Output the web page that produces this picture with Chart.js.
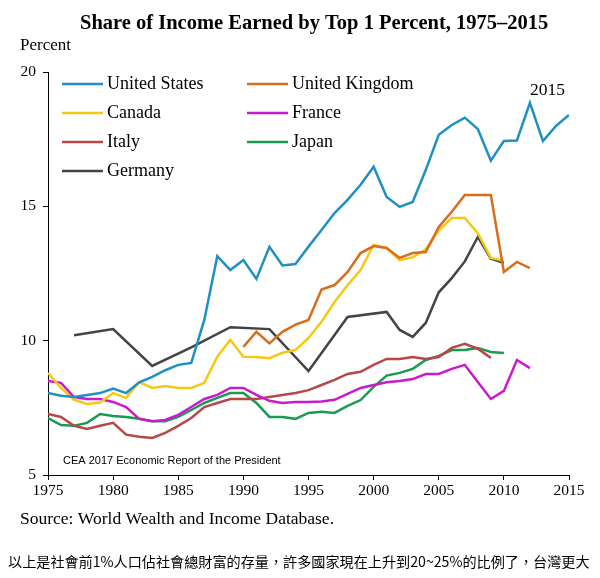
<!DOCTYPE html>
<html>
<head>
<meta charset="utf-8">
<script src="https://cdn.jsdelivr.net/npm/chart.js@4"></script>
<style>
  html, body { margin: 0; padding: 0; background: #fff; }
  #wrap { width: 600px; height: 578px; }
</style>
</head>
<body>
<div id="wrap"><canvas id="c" width="600" height="578"></canvas></div>
<script>
const years = [];
for (let y = 1975; y <= 2015; y++) years.push(y);

const unitedStates = [8.05, 7.95, 7.9, 7.98, 8.05, 8.22, 8.05, 8.45, 8.65, 8.9,
  9.1, 9.17, 10.77, 13.15, 12.63, 13.0, 12.3, 13.49, 12.8, 12.85,
  13.5, 14.12, 14.75, 15.24, 15.8, 16.47, 15.35, 14.98, 15.16, 16.35,
  17.66, 18.03, 18.3, 17.88, 16.7, 17.43, 17.45, 18.85, 17.43, 17.99, 18.4];
const unitedKingdom = [null, null, null, null, null, null, null, null, null, null,
  null, null, null, null, null, 9.77, 10.33, 9.9, 10.33, 10.6,
  10.77, 11.9, 12.07, 12.56, 13.26, 13.52, 13.45, 13.08, 13.26, 13.3,
  14.23, 14.8, 15.42, 15.42, 15.42, 12.56, 12.93, 12.7, null, null, null];
const canada = [8.8, 8.24, 7.8, 7.64, 7.7, 8.05, 7.87, 8.46, 8.24, 8.31,
  8.24, 8.24, 8.43, 9.4, 10.03, 9.4, 9.39, 9.35, 9.55, 9.65,
  10.1, 10.7, 11.44, 12.07, 12.63, 13.56, 13.45, 13.0, 13.1, 13.4,
  14.1, 14.57, 14.57, 14.0, 13.08, 12.97, null, null, null, null, null];
const france = [8.5, 8.43, 7.9, 7.83, 7.83, 7.72, 7.53, 7.09, 7.0, 7.05,
  7.24, 7.53, 7.83, 7.98, 8.24, 8.24, 7.98, 7.76, 7.68, 7.72,
  7.72, 7.74, 7.8, 8.02, 8.24, 8.35, 8.45, 8.5, 8.57, 8.76,
  8.76, 8.95, 9.1, 8.46, 7.83, 8.13, 9.28, 8.98, null, null, null];
const italy = [7.27, 7.16, 6.83, 6.71, 6.83, 6.94, 6.5, 6.42, 6.38, 6.57,
  6.83, 7.12, 7.53, 7.68, 7.83, 7.83, 7.83, 7.9, 7.98, 8.05,
  8.16, 8.35, 8.54, 8.76, 8.84, 9.1, 9.32, 9.32, 9.39, 9.32,
  9.39, 9.73, 9.88, 9.7, 9.36, null, null, null, null, null, null];
const japan = [7.12, 6.86, 6.83, 6.94, 7.27, 7.2, 7.16, 7.09, 7.0, 7.0,
  7.16, 7.42, 7.68, 7.87, 8.05, 8.05, 7.68, 7.16, 7.16, 7.09,
  7.31, 7.35, 7.31, 7.57, 7.79, 8.28, 8.7, 8.8, 8.95, 9.28,
  9.43, 9.65, 9.65, 9.73, 9.58, 9.54, null, null, null, null, null];
// Germany only has every third year until 2001
const germany = [null, null, 10.2, null, null, 10.43, null, null, 9.06, null,
  null, 9.75, null, null, 10.5, null, null, 10.43, null, null,
  8.87, null, null, 10.88, null, null, 11.07, 10.4, 10.14, 10.66,
  11.8, 12.33, 12.95, 13.86, 13.05, 12.9, null, null, null, null, null];

const xTicks = [1975, 1980, 1985, 1990, 1995, 2000, 2005, 2010, 2015];
const yTicks = [5, 10, 15, 20];

const series = [
  { label: 'United States', data: unitedStates, color: '#1f8fc4' },
  { label: 'United Kingdom', data: unitedKingdom, color: '#d86d1c' },
  { label: 'Canada', data: canada, color: '#f5c816' },
  { label: 'France', data: france, color: '#cc19cc' },
  { label: 'Italy', data: italy, color: '#b8474a' },
  { label: 'Japan', data: japan, color: '#1a9a52' },
  { label: 'Germany', data: germany, color: '#444444' }
];

const legendOrder = [
  ['United States', 62, 84], ['Canada', 62, 113], ['Italy', 62, 142], ['Germany', 62, 171],
  ['United Kingdom', 247, 84], ['France', 247, 113], ['Japan', 247, 142]
];

const titleText = 'Share of Income Earned by Top 1 Percent, 1975–2015';
const noteText = '以上是社會前1%人口佔社會總財富的存量，許多國家現在上升到20~25%的比例了，台灣更大';
const serif = '"Liberation Serif", "Times New Roman", serif';

const extras = {
  id: 'extras',
  afterDraw(chart) {
    const ctx = chart.ctx;
    ctx.save();
    ctx.fillStyle = '#000';
    ctx.textBaseline = 'alphabetic';
    ctx.textAlign = 'left';
    ctx.font = 'bold 20.5px ' + serif;
    ctx.fillText(titleText, 80, 29);

    ctx.textBaseline = 'middle';
    ctx.font = '17px ' + serif;
    ctx.fillText('Percent', 20, 46);
    ctx.font = '17.5px ' + serif;
    ctx.fillText('2015', 530, 90);
    ctx.fillText('Source: World Wealth and Income Database.', 20, 519);
    ctx.font = '11px "Liberation Sans", Arial, sans-serif';
    ctx.fillText('CEA 2017 Economic Report of the President', 63, 461);

    // fit the note to the width it takes in the original
    ctx.font = '14px "Noto Sans CJK TC", sans-serif';
    const w = ctx.measureText(noteText).width;
    ctx.font = (14 * 582 / w).toFixed(2) + 'px "Noto Sans CJK TC", sans-serif';
    ctx.fillText(noteText, 8, 562);

    // legend in two columns inside the plot
    ctx.font = '18px ' + serif;
    ctx.lineWidth = 2.5;
    legendOrder.forEach(([name, x, y]) => {
      const s = series.find(d => d.label === name);
      ctx.strokeStyle = s.color;
      ctx.beginPath();
      ctx.moveTo(x, y);
      ctx.lineTo(x + 41, y);
      ctx.stroke();
      ctx.fillText(name, x + 45, y);
    });
    ctx.restore();
  }
};

new Chart(document.getElementById('c'), {
  type: 'line',
  data: {
    datasets: series.map(s => ({
      label: s.label,
      data: years.map((yr, i) => ({ x: yr, y: s.data[i] })),
      borderColor: s.color,
      backgroundColor: s.color,
      borderWidth: 2.5,
      pointRadius: 0,
      tension: 0,
      spanGaps: s.label === 'Germany'
    }))
  },
  options: {
    responsive: false,
    animation: false,
    layout: { autoPadding: false, padding: { top: 72, right: 31 } },
    plugins: {
      legend: { display: false },
      tooltip: { enabled: false },
      title: { display: false }
    },
    scales: {
      x: {
        type: 'linear',
        min: 1975,
        max: 2015,
        afterFit: s => { s.height = 103; },
        afterBuildTicks: s => { s.ticks = xTicks.map(v => ({ value: v })); },
        ticks: { color: '#000', font: { family: serif, size: 15.5 }, padding: 2, maxRotation: 0, callback: v => String(v) },
        grid: { drawOnChartArea: false, drawTicks: true, tickLength: 5, color: '#000' },
        border: { color: '#000', width: 1 }
      },
      y: {
        min: 5,
        max: 20,
        afterFit: s => { s.width = 48; },
        afterBuildTicks: s => { s.ticks = yTicks.map(v => ({ value: v })); },
        ticks: { color: '#000', font: { family: serif, size: 15.5 }, padding: 7 },
        grid: { drawOnChartArea: false, drawTicks: true, tickLength: 5, color: '#000' },
        border: { color: '#000', width: 1 }
      }
    }
  },
  plugins: [extras]
});
</script>
</body>
</html>
